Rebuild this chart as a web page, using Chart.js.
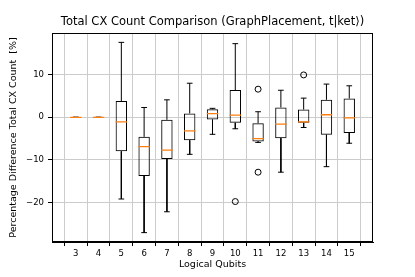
<!DOCTYPE html>
<html>
<head>
<meta charset="utf-8">
<script src="https://cdn.jsdelivr.net/npm/chart.js@4.4.1/dist/chart.umd.min.js"></script>
<style>
  html, body { margin: 0; padding: 0; background: #ffffff; }
  #wrap { width: 415px; height: 277px; position: relative; }
</style>
</head>
<body>
<div id="wrap"><canvas id="c" width="415" height="277"></canvas></div>
<script>
// ---- data ----
const qubits      = [3, 4, 5, 6, 7, 8, 9, 10, 11, 12, 13, 14, 15];
const whiskerLow  = [0, 0, -19.2, -27.1, -22.2, -8.7, -4.0, -2.7, -5.9, -12.9, -2.4, -11.6, -6.1];
const q1          = [0, 0, -8.0, -13.8, -9.8, -5.4, -0.55, -1.3, -5.7, -4.9, -1.3, -4.1, -3.7];
const medians     = [0, 0, -1.1, -6.9, -7.7, -3.2, 0.85, 0.5, -5.0, -1.6, -1.1, 0.6, -0.15];
const q3          = [0, 0, 3.8, -4.6, -0.6, 0.9, 1.9, 6.4, -1.4, 2.3, 1.8, 4.1, 4.4];
const whiskerHigh = [0, 0, 17.6, 2.3, 4.1, 8.0, 2.1, 17.3, 1.3, 6.35, 4.5, 7.8, 7.4];
const outlierQubits = [10, 11, 11, 13];
const outlierValues = [-19.8, 6.6, -12.9, 9.95];
const yTickValues = [-20, -10, 0, 10];
const xTickValues = qubits;
const chartTitle = 'Total CX Count Comparison (GraphPlacement, t|ket\u27E9)';

const boxWidth = 0.5;   // in category units
const capWidth = 0.25;

// ---- build datasets ----
const boxData = qubits.map((q, i) => ({ x: q, y: [q1[i], q3[i]] }));
const whiskerData = [];
const capData = [];
const medianData = [];
qubits.forEach((q, i) => {
  whiskerData.push({x: q, y: q3[i]}, {x: q, y: whiskerHigh[i]}, {x: q, y: null});
  whiskerData.push({x: q, y: q1[i]}, {x: q, y: whiskerLow[i]}, {x: q, y: null});
  capData.push({x: q - capWidth / 2, y: whiskerHigh[i]}, {x: q + capWidth / 2, y: whiskerHigh[i]}, {x: q, y: null});
  capData.push({x: q - capWidth / 2, y: whiskerLow[i]}, {x: q + capWidth / 2, y: whiskerLow[i]}, {x: q, y: null});
  medianData.push({x: q - boxWidth / 2, y: medians[i]}, {x: q + boxWidth / 2, y: medians[i]}, {x: q, y: null});
});
const outlierData = outlierQubits.map((q, i) => ({x: q, y: outlierValues[i]}));

const FONT = "'DejaVu Sans', sans-serif";

const framePlugin = {
  id: 'frame',
  afterDatasetsDraw(chart) {
    const {ctx, chartArea: a} = chart;
    ctx.save();
    ctx.strokeStyle = '#000000';
    ctx.lineWidth = 1;
    ctx.strokeRect(Math.round(a.left) + 0.5, Math.round(a.top) + 0.5,
                   Math.round(a.right - a.left) - 1, Math.round(a.bottom - a.top) - 1);
    ctx.restore();
  },
  afterDraw(chart) {
    const {ctx, chartArea: a} = chart;
    ctx.save();
    ctx.fillStyle = '#000000';
    ctx.font = "11.5px " + FONT;
    ctx.textAlign = 'center';
    ctx.textBaseline = 'middle';
    ctx.fillText(chartTitle, (a.left + a.right) / 2, 22.5);
    ctx.restore();
  }
};

new Chart(document.getElementById('c'), {
  type: 'bar',
  data: {
    datasets: [
      { type: 'line', data: medianData, borderColor: '#ff7f0e', borderWidth: 1.3,
        pointRadius: 0, spanGaps: false, order: 0 },
      { type: 'scatter', data: outlierData, showLine: false, pointStyle: 'circle',
        pointRadius: 3, pointBorderWidth: 1, borderColor: '#000000',
        backgroundColor: 'rgba(0,0,0,0)', pointBackgroundColor: 'rgba(0,0,0,0)', order: 1 },
      { type: 'line', data: capData, borderColor: '#000000', borderWidth: 1,
        pointRadius: 0, spanGaps: false, order: 2 },
      { type: 'line', data: whiskerData, borderColor: '#000000', borderWidth: 1,
        pointRadius: 0, spanGaps: false, order: 3 },
      { type: 'bar', data: boxData, borderColor: '#000000', borderWidth: 1,
        backgroundColor: 'rgba(0,0,0,0)', borderSkipped: false,
        barPercentage: boxWidth, categoryPercentage: 1, order: 4 }
    ]
  },
  options: {
    responsive: false,
    animation: false,
    devicePixelRatio: 1,
    layout: { padding: { left: 0, right: 42, top: 33, bottom: 0 } },
    plugins: {
      legend: { display: false },
      tooltip: { enabled: false },
      title: { display: false }
    },
    scales: {
      x: {
        type: 'linear',
        min: 2.5, max: 15.5,
        afterBuildTicks: s => { s.ticks = xTickValues.map(v => ({value: v})); },
        afterFit: s => { s.height = 35; },
        ticks: { color: '#000000', font: { family: FONT, size: 8.5 }, padding: 3,
                 autoSkip: false, maxRotation: 0, callback: v => String(v) },
        grid: { color: '#cccccc', lineWidth: 1, tickColor: '#000000', tickLength: 4, drawTicks: true },
        border: { color: '#000000', width: 1 },
        title: { display: true, text: 'Logical Qubits', color: '#000000',
                 font: { family: FONT, size: 9.5 }, padding: { top: 0, bottom: 7 } }
      },
      y: {
        type: 'linear',
        min: -29.3, max: 19.8,
        afterBuildTicks: s => { s.ticks = yTickValues.map(v => ({value: v})); },
        afterFit: s => { s.width = 52; },
        ticks: { color: '#000000', font: { family: FONT, size: 8.5 }, padding: 4,
                 callback: v => String(v).replace('-', '\u2212') },
        grid: { color: '#cccccc', lineWidth: 1, tickColor: '#000000', tickLength: 4, drawTicks: true },
        border: { color: '#000000', width: 1 },
        title: { display: true, text: 'Percentage Difference Total CX Count  [%]', color: '#000000',
                 font: { family: FONT, size: 9.5 }, padding: { top: 8, bottom: 0 } }
      }
    }
  },
  plugins: [framePlugin]
});
</script>
</body>
</html>
